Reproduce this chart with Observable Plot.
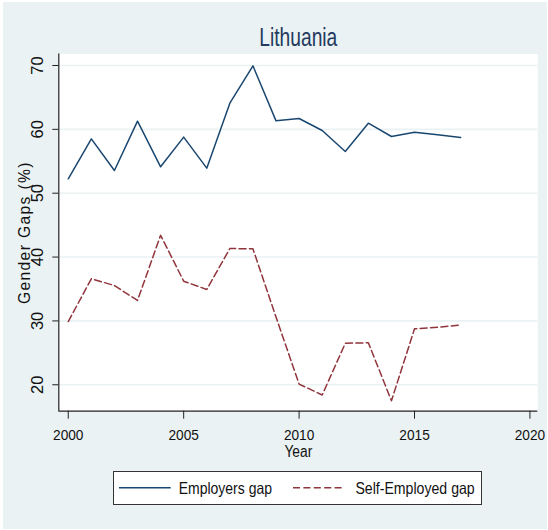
<!DOCTYPE html>
<html><head><meta charset="utf-8">
<script src="https://cdn.jsdelivr.net/npm/d3@7"></script>
<script src="https://cdn.jsdelivr.net/npm/@observablehq/plot@0.6"></script>
<style>
body{margin:0;background:#fff;width:548px;height:530px;overflow:hidden;position:relative;font-family:"Liberation Sans",Arial,sans-serif}
#bg{position:absolute;left:3px;top:2px;width:544px;height:527px;background:#EAF2F3}
#chart{position:absolute;left:0;top:0}
#legend{position:absolute;left:113px;top:471px;width:369px;height:34px;box-sizing:border-box;border:1px solid #333;background:#fff}
#legend svg{display:block;position:absolute;left:-1px;top:-1px;overflow:visible}
</style></head><body>
<div id="bg"></div>
<div id="chart"></div>
<div id="legend"></div>
<script>
const title = "Lithuania";
const xLabel = "Year";
const yLabel = "Gender Gaps (%)";
const years = [2000,2001,2002,2003,2004,2005,2006,2007,2008,2009,2010,2011,2012,2013,2014,2015,2016,2017];
const employersGap = [52.25,58.5,53.55,61.28,54.13,58.78,53.92,64.1,69.95,61.33,61.7,59.82,56.53,60.97,58.88,59.56,59.14,58.72];
const selfEmployedGap = [29.9,36.6,35.54,33.2,43.42,36.22,34.92,41.34,41.29,30.6,20.1,18.4,26.5,26.57,17.5,28.76,29.0,29.35];
const seriesNames = ["Employers gap","Self-Employed gap"];
const seriesColors = ["#1a476f","#90353b"];
const seriesDash = [null,"7,3.4"];
const xTicks = [2000,2005,2010,2015,2020];
const yTicks = [20,30,40,50,60,70];

const xDomain = [1999.59, 2020.34];
const yDomain = [15.86, 71.8];

const emp = years.map((y,i)=>({year:y, value:employersGap[i]}));
const self = years.map((y,i)=>({year:y, value:selfEmployedGap[i]}));

const chart = Plot.plot({
  width: 548,
  height: 470,
  marginLeft: 58.3,
  marginRight: 10.7,
  marginTop: 53.5,
  marginBottom: 59.3,
  style: {background:"transparent", fontFamily:'"Liberation Sans",Arial,sans-serif', fontSize:"16px", color:"#111", overflow:"visible"},
  x: {domain: xDomain, axis: null},
  y: {domain: yDomain, axis: null},
  marks: [
    Plot.frame({fill:"white", stroke:null}),
    Plot.gridY(yTicks, {stroke:"#EAF2F3", strokeOpacity:1, strokeWidth:1.6}),
    Plot.line(emp, {x:"year", y:"value", stroke:seriesColors[0], strokeWidth:1.5}),
    Plot.line(self, {x:"year", y:"value", stroke:seriesColors[1], strokeWidth:1.5, strokeDasharray:seriesDash[1]}),
    Plot.ruleX([xDomain[0]], {stroke:"#222", strokeWidth:1.2}),
    Plot.ruleY([yDomain[0]], {stroke:"#222", strokeWidth:1.2}),
    Plot.axisX(xTicks, {tickSize:8, tickPadding:10, tickFormat:"d", label:null, stroke:"#222", fill:"#111", fontSize:15}),
    Plot.axisY(yTicks, {tickSize:6, tickFormat:()=>"", label:null, stroke:"#222"}),
    Plot.text(yTicks, {y:d=>d, frameAnchor:"left", dx:-20.8, rotate:-90, text:d=>String(d), fontSize:16.5, fill:"#111", textAnchor:"middle", lineAnchor:"middle"}),
    Plot.text([yLabel], {frameAnchor:"left", dx:-33.8, rotate:-90, fontSize:17, fill:"#111", textAnchor:"middle", lineAnchor:"middle"}),
    Plot.text([xLabel], {frameAnchor:"bottom", dy:34.3, lineAnchor:"top", fontSize:16, fill:"#111"}),
    Plot.text([title], {frameAnchor:"top", dy:-8.5, lineAnchor:"bottom", fontSize:25.5, fill:"#243a5e"})
  ]
});
document.getElementById("chart").appendChild(chart);

function fitText(el, len){ el.setAttribute("textLength", len); el.setAttribute("lengthAdjust","spacingAndGlyphs"); }
function squeeze(el, ratio){ fitText(el, el.getComputedTextLength()*ratio); }

d3.select(chart).selectAll("text").each(function(){
  const t = this.textContent;
  if (t === yLabel) { this.style.letterSpacing = "1.5px"; fitText(this, 143); }
  else if (t === title) { fitText(this, 78); }
  else if (t === xLabel) { squeeze(this, 0.86); }
  else if (xTicks.map(String).includes(t) && !(this.getAttribute("transform")||"").includes("rotate")) { fitText(this, 30.4); }
});

// legend
const legW = 369, legH = 34;
const leg = d3.select("#legend").append("svg").attr("width", legW).attr("height", legH)
  .style("font-family",'"Liberation Sans",Arial,sans-serif').style("font-size","16.5px");
const swX = [6, 180], swW = [51.7, 50], txX = [65.7, 242.4], txW = [93.3, 119.3];
seriesNames.forEach((name,i)=>{
  leg.append("line").attr("x1",swX[i]).attr("x2",swX[i]+swW[i]).attr("y1",16.7).attr("y2",16.7)
    .attr("stroke",seriesColors[i]).attr("stroke-width",1.6)
    .attr("stroke-dasharray",seriesDash[i]);
  const t = leg.append("text").attr("x",txX[i]).attr("y",23).attr("fill","#111").text(name);
  fitText(t.node(), txW[i]);
});
</script>
</body></html>
